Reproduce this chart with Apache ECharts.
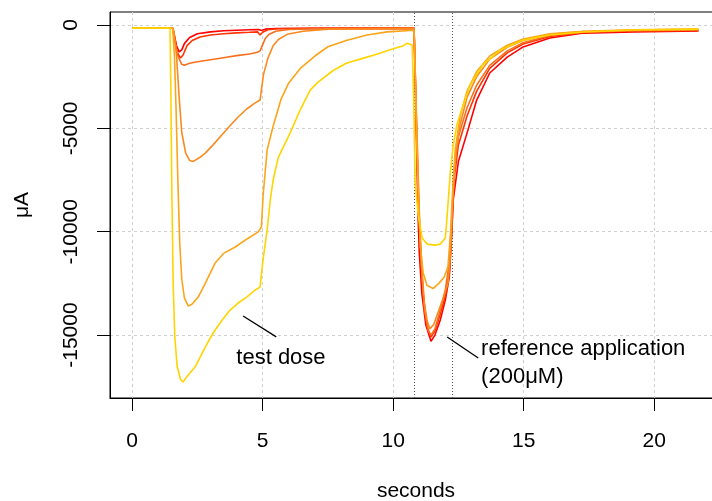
<!DOCTYPE html>
<html>
<head>
<meta charset="utf-8">
<script src="https://cdn.jsdelivr.net/npm/echarts@6/dist/echarts.min.js"></script>
<style>html,body{margin:0;padding:0;background:#fff}#c{width:712px;height:501px}</style>
</head>
<body>
<div id="c"></div>
<script>
const xTicks = [0, 5, 10, 15, 20];
const yTicks = [0, -5000, -10000, -15000];
const markerX = [10.8, 12.26];
const traceNames = ['d1', 'd2', 'd3', 'd4', 'd5', 'd6'];
const traceColors = ['#FF0000', '#FF3300', '#F8701E', '#FA8A1E', '#FBA51A', '#FFD400'];

const trace1 = [[0,-150],[1.55,-150],[1.6,-400],[1.7,-1000],[1.8,-1300],[1.9,-1200],[2.0,-900],[2.2,-600],[2.5,-420],[3.0,-330],[3.5,-280],[4.0,-250],[4.5,-230],[4.85,-220],[4.95,-260],[5.1,-200],[5.5,-170],[7,-160],[10.8,-150],[10.85,-3000],[10.9,-6000],[10.95,-9000],[11.0,-11000],[11.1,-13000],[11.25,-14500],[11.45,-15300],[11.6,-15000],[11.8,-14300],[12.0,-13300],[12.15,-12200],[12.25,-10000],[12.3,-8470],[12.5,-6600],[12.83,-5230],[13.2,-3630],[13.7,-2320],[14.37,-1550],[14.98,-1060],[16.0,-630],[17.3,-390],[19.2,-340],[21.7,-290]];
const trace2 = [[0,-150],[1.55,-150],[1.62,-600],[1.72,-1300],[1.85,-1600],[1.95,-1450],[2.1,-1000],[2.3,-750],[2.6,-580],[3.0,-480],[3.5,-420],[4.0,-380],[4.5,-350],[4.8,-330],[4.9,-480],[5.0,-350],[5.2,-230],[5.6,-180],[7,-160],[10.8,-150],[10.85,-2500],[10.9,-5500],[10.97,-8500],[11.05,-11000],[11.15,-13000],[11.3,-14600],[11.45,-15100],[11.6,-14800],[11.8,-14000],[12.0,-13100],[12.15,-12000],[12.25,-9800],[12.33,-7500],[12.5,-5800],[12.83,-4400],[13.2,-3200],[13.7,-2100],[14.37,-1350],[14.98,-920],[16.0,-550],[17.3,-360],[19.2,-290],[21.7,-260]];
const trace3 = [[0,-150],[1.55,-150],[1.62,-700],[1.75,-1500],[1.9,-1900],[2.0,-1950],[2.2,-1850],[2.5,-1780],[3.0,-1680],[3.5,-1580],[4.0,-1480],[4.5,-1400],[4.8,-1320],[4.9,-1250],[5.0,-950],[5.1,-650],[5.25,-450],[5.5,-300],[6.0,-220],[7,-180],[10.8,-160],[10.85,-2800],[10.92,-6000],[11.0,-9500],[11.1,-12000],[11.2,-13800],[11.35,-14800],[11.45,-15000],[11.6,-14700],[11.8,-13800],[12.0,-12800],[12.15,-11500],[12.25,-9200],[12.33,-7000],[12.5,-5400],[12.83,-4000],[13.2,-2900],[13.7,-1950],[14.37,-1250],[14.98,-860],[16.0,-510],[17.3,-340],[19.2,-270],[21.7,-240]];
const trace4 = [[0,-150],[1.55,-150],[1.6,-300],[1.7,-1500],[1.8,-3500],[1.9,-5200],[2.05,-6200],[2.2,-6550],[2.34,-6600],[2.6,-6400],[2.8,-6200],[3.1,-5800],[3.45,-5300],[3.8,-4800],[4.06,-4450],[4.4,-4050],[4.7,-3780],[4.9,-3630],[5.03,-2400],[5.2,-1600],[5.4,-1000],[5.6,-700],[5.94,-450],[6.55,-300],[7.5,-200],[10.8,-160],[10.85,-2500],[10.92,-5500],[11.0,-9000],[11.1,-11800],[11.2,-13500],[11.3,-14300],[11.4,-14700],[11.55,-14500],[11.75,-13800],[11.95,-13100],[12.1,-12500],[12.2,-11000],[12.28,-8500],[12.4,-6200],[12.57,-4800],[12.83,-3500],[13.2,-2500],[13.7,-1650],[14.37,-1080],[14.98,-750],[16.0,-450],[17.3,-320],[19.2,-250],[21.7,-220]];
const trace5 = [[0,-150],[1.55,-150],[1.62,-1500],[1.68,-4000],[1.75,-7500],[1.82,-10500],[1.9,-12300],[2.0,-13200],[2.15,-13600],[2.3,-13500],[2.53,-13160],[2.8,-12500],[3.18,-11510],[3.5,-11050],[3.95,-10740],[4.4,-10350],[4.83,-10010],[4.95,-9770],[5.02,-8200],[5.17,-6050],[5.4,-4900],[5.7,-3600],[6.0,-2800],[6.44,-2100],[7.0,-1500],[7.5,-1050],[8.2,-750],[9.0,-480],[9.77,-330],[10.8,-250],[10.85,-2500],[10.9,-5500],[10.97,-8500],[11.05,-10800],[11.15,-12000],[11.3,-12600],[11.53,-12750],[11.75,-12500],[11.95,-12200],[12.1,-11700],[12.2,-10000],[12.28,-8000],[12.38,-6000],[12.57,-4400],[12.83,-3200],[13.2,-2250],[13.7,-1500],[14.37,-980],[14.98,-680],[16.0,-420],[17.3,-300],[19.2,-230],[21.7,-200]];
const trace6 = [[0,-150],[1.45,-150],[1.48,-3000],[1.52,-8000],[1.57,-12500],[1.63,-15000],[1.72,-16500],[1.85,-17150],[1.95,-17270],[2.1,-17000],[2.41,-16550],[2.8,-15580],[3.1,-14900],[3.45,-14270],[3.75,-13790],[4.06,-13450],[4.4,-13150],[4.71,-12820],[4.9,-12680],[5.0,-11500],[5.17,-9920],[5.29,-8470],[5.4,-7500],[5.6,-6400],[6.05,-5230],[6.44,-4100],[6.82,-3150],[7.09,-2800],[7.7,-2200],[8.2,-1850],[8.74,-1650],[9.4,-1400],[10.0,-1150],[10.4,-1000],[10.54,-880],[10.73,-970],[10.77,-2760],[10.8,-4500],[10.84,-7600],[10.96,-9200],[11.11,-10300],[11.3,-10600],[11.6,-10650],[11.8,-10600],[12.0,-10300],[12.07,-9200],[12.18,-7300],[12.3,-5800],[12.45,-4800],[12.57,-4300],[12.95,-2900],[13.45,-1900],[14.1,-1210],[14.98,-730],[16.0,-480],[17.3,-340],[19.2,-240],[21.7,-200]];
const traces = [trace1, trace2, trace3, trace4, trace5, trace6];

// annotations (data coordinates)
const noteTest = { text: 'test dose', lineFrom: [4.25, -14080], lineTo: [5.52, -15090], textAt: [3.99, -16100] };
const noteRef = { lines: ['reference application', '(200μM)'], lineFrom: [12.07, -15090], lineTo: [13.26, -16110], textAt: [13.37, -14980] };

const FONT = "'Liberation Sans', Arial, sans-serif";
const chart = echarts.init(document.getElementById('c'), null, { renderer: 'canvas' });

const series = traces.map((d, i) => ({
  name: traceNames[i], type: 'line', data: d, showSymbol: false, symbol: 'none',
  lineStyle: { color: traceColors[i], width: 1.6 }, itemStyle: { color: traceColors[i] },
  silent: true, animation: false, z: 2 + i
}));
series.push({
  name: 'marks', type: 'line', data: [], silent: true, animation: false,
  markLine: {
    silent: true, symbol: 'none', animation: false, label: { show: false },
    data: [
      { xAxis: markerX[0], lineStyle: { color: '#555', type: [1, 2], width: 1 } },
      { xAxis: markerX[1], lineStyle: { color: '#555', type: [1, 2], width: 1 } },
      [{ coord: noteTest.lineFrom, lineStyle: { color: '#000', type: 'solid', width: 1.3 } }, { coord: noteTest.lineTo }],
      [{ coord: noteRef.lineFrom, lineStyle: { color: '#000', type: 'solid', width: 1.3 } }, { coord: noteRef.lineTo }]
    ]
  }
});

chart.setOption({
  animation: false,
  backgroundColor: '#fff',
  grid: { left: 110, top: 12, width: 612, height: 386, outerBoundsMode: 'none', containLabel: false, show: true, borderColor: '#000', borderWidth: 1 },
  xAxis: {
    type: 'value', min: -0.85, max: 22.6,
    name: 'seconds', nameLocation: 'middle', nameGap: 83,
    nameTextStyle: { fontFamily: FONT, fontSize: 21, color: '#000' },
    axisLine: { show: true, onZero: false, lineStyle: { color: '#000' } },
    axisTick: { show: true, length: 13, customValues: xTicks, lineStyle: { color: '#000' } },
    axisLabel: { customValues: xTicks, margin: 33, fontFamily: FONT, fontSize: 21, color: '#000', formatter: v => String(v) },
    splitLine: { show: true, customValues: xTicks, lineStyle: { color: '#d0d0d0', type: [3, 3], width: 1 } }
  },
  yAxis: {
    type: 'value', min: -18045, max: 630,
    name: 'μA', nameLocation: 'middle', nameGap: 77, nameRotate: 90,
    nameTextStyle: { fontFamily: FONT, fontSize: 21, color: '#000' },
    axisLine: { show: true, onZero: false, lineStyle: { color: '#000' } },
    axisTick: { show: true, length: 13, customValues: yTicks, lineStyle: { color: '#000' } },
    axisLabel: { customValues: yTicks, rotate: 90, margin: 28, fontFamily: FONT, fontSize: 21, color: '#000', formatter: v => String(v) },
    splitLine: { show: true, customValues: yTicks, lineStyle: { color: '#d0d0d0', type: [3, 3], width: 1 } }
  },
  series: series
});

const p1 = chart.convertToPixel({ gridIndex: 0 }, noteTest.textAt);
const p2 = chart.convertToPixel({ gridIndex: 0 }, noteRef.textAt);
chart.setOption({
  graphic: [
    { type: 'text', x: p1[0], y: p1[1], style: { text: noteTest.text, font: "22px " + FONT, fill: '#000', textVerticalAlign: 'middle' }, silent: true },
    { type: 'text', x: p2[0], y: p2[1], style: { text: noteRef.lines.join('\n'), font: "22px " + FONT, fill: '#000', lineHeight: 28, textVerticalAlign: 'top' }, silent: true }
  ]
});
</script>
</body>
</html>
